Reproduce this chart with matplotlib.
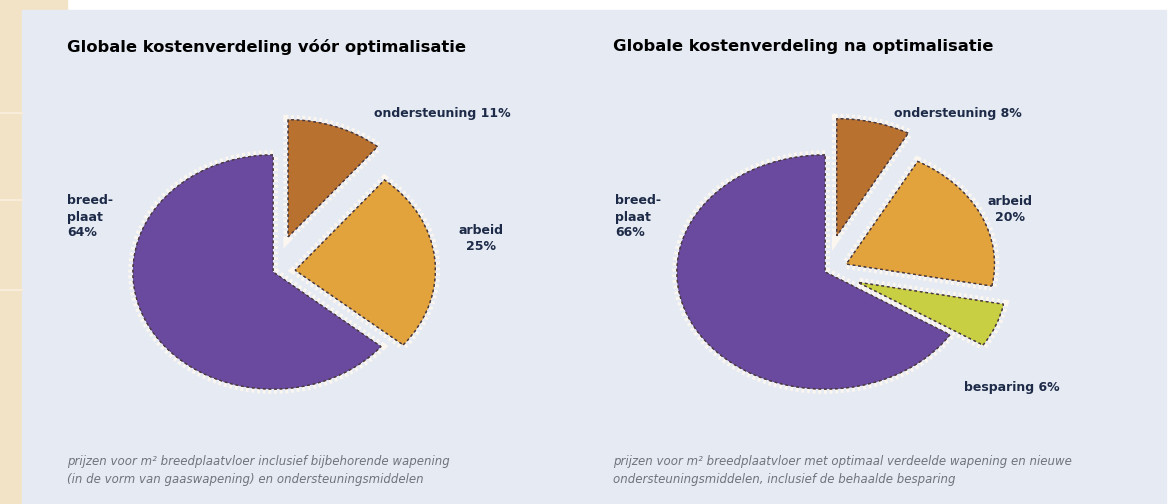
import matplotlib.pyplot as plt
import matplotlib.patheffects as pe
from matplotlib.patches import Rectangle

W, H = 1175, 504

# data
left_title = "Globale kostenverdeling vóór optimalisatie"
right_title = "Globale kostenverdeling na optimalisatie"
left_parts = ["breedplaat", "arbeid", "ondersteuning"]
left_values = [64, 25, 11]
right_parts = ["breedplaat", "besparing", "arbeid", "ondersteuning"]
right_values = [66, 6, 20, 8]
left_note = ["prijzen voor m² breedplaatvloer inclusief bijbehorende wapening",
             "(in de vorm van gaaswapening) en ondersteuningsmiddelen"]
right_note = ["prijzen voor m² breedplaatvloer met optimaal verdeelde wapening en nieuwe",
              "ondersteuningsmiddelen, inclusief de behaalde besparing"]

colors = {"breedplaat": "#6a4a9e", "arbeid": "#e2a33c",
          "ondersteuning": "#b8712f", "besparing": "#c9cf42"}
explode_map = {"breedplaat": 0.0, "arbeid": 0.16, "ondersteuning": 0.32, "besparing": 0.24}
panel = "#e6ebf3"
label_col = "#1d2b48"


def fx(x):
    return x / W


def fy(y):
    return 1 - y / H


fig = plt.figure(figsize=(W / 100, H / 100), dpi=100)
fig.patch.set_facecolor("white")

bg = fig.add_axes([0, 0, 1, 1])
bg.set_xlim(0, W)
bg.set_ylim(H, 0)
bg.axis("off")
bg.add_patch(Rectangle((0, 0), 22, H, color="#f3e3c6"))
bg.add_patch(Rectangle((0, 0), 67, 10, color="#f3e3c6"))
bg.add_patch(Rectangle((22, 10), 1144, H - 10, color=panel))
for yy in (113, 200, 290):
    bg.plot([0, 22], [yy, yy], color="#f8eddb", lw=1.5)


def draw_pie(cx, cy, rx, ry, parts, values):
    k = 1.6
    ax = fig.add_axes([fx(cx - k * rx), fy(cy + k * ry), 2 * k * rx / W, 2 * k * ry / H])
    wedges, _ = ax.pie(values, startangle=90, counterclock=True,
                       colors=[colors[p] for p in parts],
                       explode=[explode_map[p] for p in parts],
                       wedgeprops=dict(edgecolor="#4a3a40", linewidth=1.0, linestyle=(0, (2, 2))))
    for w in wedges:
        w.set_path_effects([pe.withStroke(linewidth=7, foreground="#fbf6f0"), pe.Normal()])
    ax.set_aspect("auto")
    ax.set_xlim(-k, k)
    ax.set_ylim(-k, k)
    ax.axis("off")
    return ax


draw_pie(273, 272, 140, 117, left_parts, left_values)
draw_pie(825, 272, 148, 117, right_parts, right_values)

title_kw = dict(fontsize=11.8, fontweight="bold", color="black", va="center", ha="left")
fig.text(fx(67), fy(47), left_title, **title_kw)
fig.text(fx(613), fy(47), right_title, **title_kw)

lab = dict(fontsize=9, fontweight="bold", color=label_col, linespacing=1.3)
fig.text(fx(67), fy(217), f"breed-\nplaat\n{left_values[0]}%", ha="left", va="center", **lab)
fig.text(fx(442), fy(113), f"ondersteuning {left_values[2]}%", ha="center", va="center", **lab)
fig.text(fx(481), fy(238), f"arbeid\n{left_values[1]}%", ha="center", va="center", **lab)

fig.text(fx(615), fy(217), f"breed-\nplaat\n{right_values[0]}%", ha="left", va="center", **lab)
fig.text(fx(958), fy(113), f"ondersteuning {right_values[3]}%", ha="center", va="center", **lab)
fig.text(fx(1010), fy(209), f"arbeid\n{right_values[2]}%", ha="center", va="center", **lab)
fig.text(fx(1012), fy(388), f"besparing {right_values[1]}%", ha="center", va="center", **lab)

note = dict(fontsize=8.5, color="#6e737d", style="italic", ha="left", va="center")
fig.text(fx(67), fy(461), left_note[0], **note)
fig.text(fx(67), fy(480), left_note[1], **note)
fig.text(fx(613), fy(461), right_note[0], **note)
fig.text(fx(613), fy(480), right_note[1], **note)

fig.savefig("out.png", dpi=100)
